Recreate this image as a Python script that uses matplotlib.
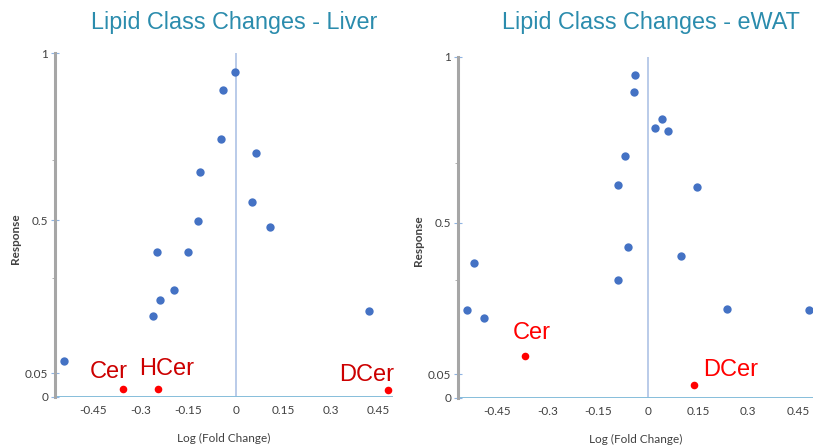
import numpy as np
import matplotlib
matplotlib.use('Agg')
import matplotlib.pyplot as plt

# liver panel
liver_x = [-0.002, -0.039, -0.046, 0.064, -0.113, 0.052, -0.119, 0.108,
           -0.248, -0.150, -0.196, -0.240, -0.261, 0.422, -0.541]
liver_y = [0.942, 0.891, 0.743, 0.700, 0.645, 0.554, 0.498, 0.482,
           0.407, 0.407, 0.295, 0.265, 0.218, 0.234, 0.086]
liver_red_x = [-0.355, -0.245, 0.482]
liver_red_y = [0.017, 0.017, 0.015]
liver_red_names = ['Cer', 'HCer', 'DCer']

# eWAT panel
ewat_x = [-0.039, -0.040, 0.043, 0.022, 0.061, -0.067, -0.089, 0.148,
          -0.060, -0.519, 0.098, -0.090, -0.541, -0.490, 0.237, 0.481]
ewat_y = [0.945, 0.893, 0.813, 0.784, 0.777, 0.702, 0.613, 0.607,
          0.428, 0.379, 0.402, 0.330, 0.240, 0.217, 0.243, 0.240]
ewat_red_x = [-0.368, 0.138]
ewat_red_y = [0.105, 0.028]
ewat_red_names = ['Cer', 'DCer']

xticks = [-0.45, -0.3, -0.15, 0, 0.15, 0.3, 0.45]
xticklabels = ['-0.45', '-0.3', '-0.15', '0', '0.15', '0.3', '0.45']
yticks = [0, 0.05, 0.5, 1]
yticklabels = ['0', '0.05', '0.5', '1']

# stretched response axis (piecewise)
scale_v = [0, 0.05, 0.5, 1]
scale_p = [0, 23.5, 176, 343]
def fwd(v):
    return np.interp(v, scale_v, scale_p, left=-1, right=360)
def inv(p):
    return np.interp(p, scale_p, scale_v)

title_col = '#2b8cad'
blue = '#4472c4'
tick_col = '#404040'

fig = plt.figure(figsize=(8.13, 4.47), dpi=100)
ax1 = fig.add_axes([0.0677, 0.1119, 0.4157, 0.7695])
ax2 = fig.add_axes([0.5633, 0.1103, 0.4367, 0.7630])

panels = [
    (ax1, liver_x, liver_y, liver_red_x, liver_red_y, liver_red_names,
     (-0.570, 0.497), 'Lipid Class Changes - Liver', 234 / 813, '#cc0000',
     [(-0.402, 0.054), (-0.219, 0.063), (0.415, 0.047)]),
    (ax2, ewat_x, ewat_y, ewat_red_x, ewat_red_y, ewat_red_names,
     (-0.568, 0.494), 'Lipid Class Changes - eWAT', 651 / 813, '#ff0000',
     [(-0.346, 0.172), (0.247, 0.063)]),
]

for ax, x, y, rx, ry, names, xl, title, tx, lab_col, lab_pos in panels:
    ax.set_yscale('function', functions=(fwd, inv))
    ax.set_xlim(*xl)
    ax.set_ylim(0, 1)
    ax.axvline(0, color='#b4c7e7', lw=1.3, zorder=1)
    ax.axhline(0, color='#86bedb', lw=1.4, zorder=1)
    ax.scatter(x, y, s=36, color=blue, zorder=3, linewidths=0)
    ax.scatter(rx, ry, s=30, color='#ff0000', zorder=3, linewidths=0)
    for n, (lx, ly) in zip(names, lab_pos):
        ax.text(lx, ly, n, color=lab_col, fontsize=17,
                family='Liberation Sans', ha='center', va='center')
    for s in ['top', 'right', 'bottom']:
        ax.spines[s].set_visible(False)
    ax.spines['left'].set_color('#a6a6a6')
    ax.spines['left'].set_linewidth(2.2)
    ax.set_xticks(xticks)
    ax.set_xticklabels(xticklabels)
    ax.set_yticks(yticks)
    ax.set_yticklabels(yticklabels)
    ax.set_yticks([0.33, 0.68], minor=True)
    ax.tick_params(axis='x', length=0, pad=6, labelsize=8.5, labelcolor=tick_col)
    ax.tick_params(axis='y', which='major', direction='inout', length=6,
                   color='#8fb4e3', labelsize=8.5, labelcolor=tick_col, pad=2)
    ax.tick_params(axis='y', which='minor', direction='out', length=2,
                   color='#a6a6a6', labelleft=False)
    for lbl in ax.get_xticklabels() + ax.get_yticklabels():
        lbl.set_family('Lato')
    ax.set_xlabel('Log (Fold Change)', fontsize=8.5, color=tick_col,
                  family='Lato', labelpad=12)
    ax.set_ylabel('Response', fontsize=8.5, color=tick_col, family='Lato',
                  fontweight='bold', labelpad=8)
    ax.patch.set_alpha(0)
    fig.text(tx, 0.949, title, color=title_col, fontsize=16.8,
             family='Liberation Sans', ha='center', va='center')

ax1.yaxis.set_label_coords(-0.1, 0.46)
ax2.yaxis.set_label_coords(-0.095, 0.46)

plt.savefig('out.png', dpi=100)
